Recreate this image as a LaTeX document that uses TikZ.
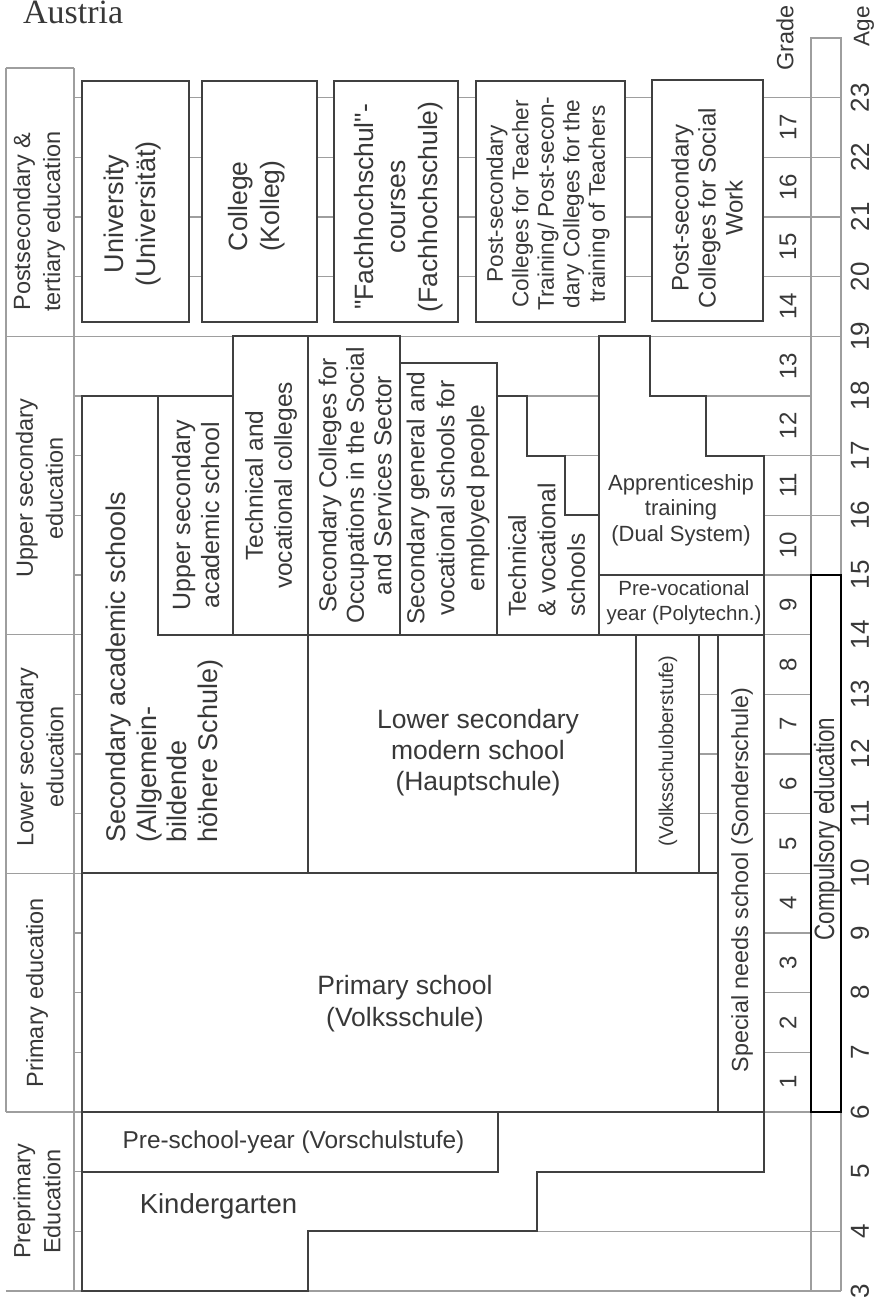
\documentclass[tikz,border=0pt]{standalone}
\usepackage{fontspec}
\usepackage{graphicx}
\setmainfont{Liberation Sans}[Ligatures=TeXOff]
\newfontfamily\titlefont{Liberation Serif}
\newcommand{\fsz}[2]{\fontsize{#1}{#2}\selectfont}
\definecolor{ink}{gray}{0.22}
\definecolor{rulec}{gray}{0.25}
\definecolor{gridc}{gray}{0.62}
\begin{document}
\begin{tikzpicture}[x=1pt, y=59.67pt,
  gridline/.style={draw=gridc, line width=1.5pt},
  box/.style={draw=rulec, line width=1.8pt, fill=white, line join=miter},
  openbox/.style={draw=rulec, line width=1.8pt},
  lbl/.style={text=ink, align=center, inner sep=0pt},
  vlbl/.style={lbl, rotate=90},
]
\useasboundingbox (0,2.8827) rectangle (885,24.636);

% ---- age grid, stage column, age column ----
\foreach \a in {20,...,23} \draw[gridline] (74,\a) -- (841,\a);
\foreach \a in {19,14,10,6} \draw[gridline] (6,\a) -- (841,\a);
\draw[gridline] (74,18) -- (811,18);
\foreach \a in {7,8,9,11,12,13,15,16,17} \draw[gridline] (74,\a) -- (841,\a);
\draw[gridline] (74,5) -- (82,5);
\draw[gridline] (74,4) -- (841,4);
\draw[gridline] (6,3) -- (841,3);
\draw[gridline] (6,23.496) -- (74,23.496);
\draw[gridline] (6,23.496) -- (6,6);
\draw[gridline] (74,23.496) -- (74,3);
\draw[gridline] (811,3) -- (811,24) -- (841,24) -- (841,3);

% ---- preprimary and primary ----
\draw[box] (82,5) -- (82,3) -- (308,3) -- (308,4) -- (537,4) -- (537,5)
  -- (764,5) -- (764,6) -- (498,6) -- (498,5) -- cycle;
\draw[box] (82,5) rectangle (498,6);
\draw[box] (82,6) rectangle (718,10);
\draw[box] (718,6) rectangle (764,14);

% ---- lower secondary ----
\draw[openbox] (699,10) rectangle (718,14);
\draw[box] (636,10) rectangle (699,14);
\draw[box] (308,10) rectangle (636,14);
\draw[box] (82,10) -- (82,18) -- (158,18) -- (158,14) -- (308,14) -- (308,10) -- cycle;

% ---- upper secondary ----
\draw[box] (158,14) rectangle (233,18);
\draw[box] (233,14) rectangle (308,19);
\draw[box] (308,14) rectangle (400,19);
\draw[box] (400,14) rectangle (496.7,18.55);
\draw[box] (496.7,14) -- (496.7,18) -- (527,18) -- (527,17) -- (565,17) -- (565,16)
  -- (599,16) -- (599,14) -- cycle;
\draw[box] (599,15) -- (599,19) -- (650,19) -- (650,18) -- (706,18) -- (706,17)
  -- (764,17) -- (764,15) -- cycle;
\draw[box] (599,14) rectangle (764,15);

% ---- postsecondary ----
\draw[box] (82,19.24) rectangle (189,23.279);
\draw[box] (201.7,19.24) rectangle (316.7,23.279);
\draw[box] (334.3,19.24) rectangle (458.3,23.279);
\draw[box] (476,19.24) rectangle (625,23.279);
\draw[box] (651.7,19.257) rectangle (763.3,23.295);

% ---- compulsory schooling ----
\draw[draw=black, line width=2.4pt, fill=white] (811,6) rectangle (841,15);

% ---- title and headings ----
\node[anchor=base west, inner sep=0pt, text=ink, font=\titlefont\fsz{34}{36}] (title) at (23,24.234) {Austria};
\node[vlbl, font=\fsz{23.5}{25}] (gradeHead) at (785,24.0) {Grade};
\node[vlbl, font=\fsz{22.5}{25}] (ageHead) at (864,24.2) {Age};

% ---- stage labels ----
\node[vlbl, font=\fsz{23.5}{30}] (stPost) at (39,20.92) {Postsecondary \&\\tertiary education};
\node[vlbl, font=\fsz{23.5}{30}] (stUpper) at (39.5,16.45) {Upper secondary\\education};
\node[vlbl, font=\fsz{23.5}{30}] (stLower) at (40,11.95) {Lower secondary\\education};
\node[vlbl, font=\fsz{23.5}{30}] (stPrimary) at (37,8.0) {Primary education};
\node[vlbl, font=\fsz{23.5}{30}] (stPre) at (37,4.5) {Preprimary\\Education};

% ---- postsecondary institutions ----
\node[vlbl, font=\fsz{27}{32}] (uni) at (133,21.05) {University\\(Universität)};
\node[vlbl, font=\fsz{26.5}{32}] (kolleg) at (257,21.18) {College\\(Kolleg)};
\node[vlbl, font=\fsz{26.5}{32}] (fh) at (399,21.17) {"Fachhochschul"-\\courses\\(Fachhochschule)};
\node[vlbl, font=\fsz{22.6}{25.5}] (teacher) at (548,21.22) {Post-secondary\\Colleges for Teacher\\Training/ Post-secon-\\dary Colleges for the\\training of Teachers};
\node[vlbl, font=\fsz{24}{27}] (social) at (707,21.15) {Post-secondary\\Colleges for Social\\Work};

% ---- secondary schools ----
\node[vlbl, align=left, anchor=west, font=\fsz{27}{30.5}] (ahs) at (164.75,10.508) {Secondary academic schools\\(Allgemein-\\bildende\\höhere Schule)};
\node[vlbl, font=\fsz{25}{29}] (ahsUpper) at (195.7,16.0) {Upper secondary\\academic school};
\node[vlbl, font=\fsz{24.5}{29}] (bhs) at (271,16.5) {Technical and\\vocational colleges};
\node[vlbl, font=\fsz{24.5}{27.5}] (sozial) at (355,16.5) {Secondary Colleges for\\Occupations in the Social\\and Services Sector};
\node[vlbl, font=\fsz{24.5}{30}] (employed) at (448,16.29) {Secondary general and\\vocational schools for\\employed people};
\node[vlbl, align=left, anchor=west, font=\fsz{24.5}{29.5}] (bms) at (546.5,14.296) {Technical\\\& vocational\\schools};
\node[lbl, font=\fsz{22}{25.5}] (lehre) at (681,16.09) {Apprenticeship\\training\\(Dual System)};
\node[lbl, font=\fsz{20.5}{25}] (poly) at (684,14.531) {Pre-vocational\\year (Polytechn.)};
\node[vlbl, font=\fsz{20}{22}] (vso) at (668,12.05) {(Volksschuloberstufe)};
\node[lbl, font=\fsz{26.5}{31}] (hs) at (478,12.03) {Lower secondary\\modern school\\(Hauptschule)};

% ---- primary and preprimary ----
\node[lbl, font=\fsz{26.5}{32}] (vs) at (405,7.81) {Primary school\\(Volksschule)};
\node[vlbl, font=\fsz{23.3}{25}] (sonder) at (742,9.89) {Special needs school (Sonderschule)};
\node[vlbl, font=\fsz{22.4}{25}] (compulsory) at (827,10.74) {\scalebox{1}[1.25]{Compulsory education}};
\node[lbl, font=\fsz{27.5}{29}] (kiga) at (218.5,4.41) {Kindergarten};
\node[lbl, font=\fsz{24.4}{27}] (vorschule) at (293.5,5.5) {Pre-school-year (Vorschulstufe)};

% ---- grade and age scales ----
\foreach \g in {1,...,17} \node[vlbl, font=\fsz{24}{26}] (grade\g) at (788,\g+5.5) {\g};
\foreach \a in {3,...,23} \node[vlbl, font=\fsz{26}{28}] (age\a) at (860,\a) {\a};
\end{tikzpicture}
\end{document}
